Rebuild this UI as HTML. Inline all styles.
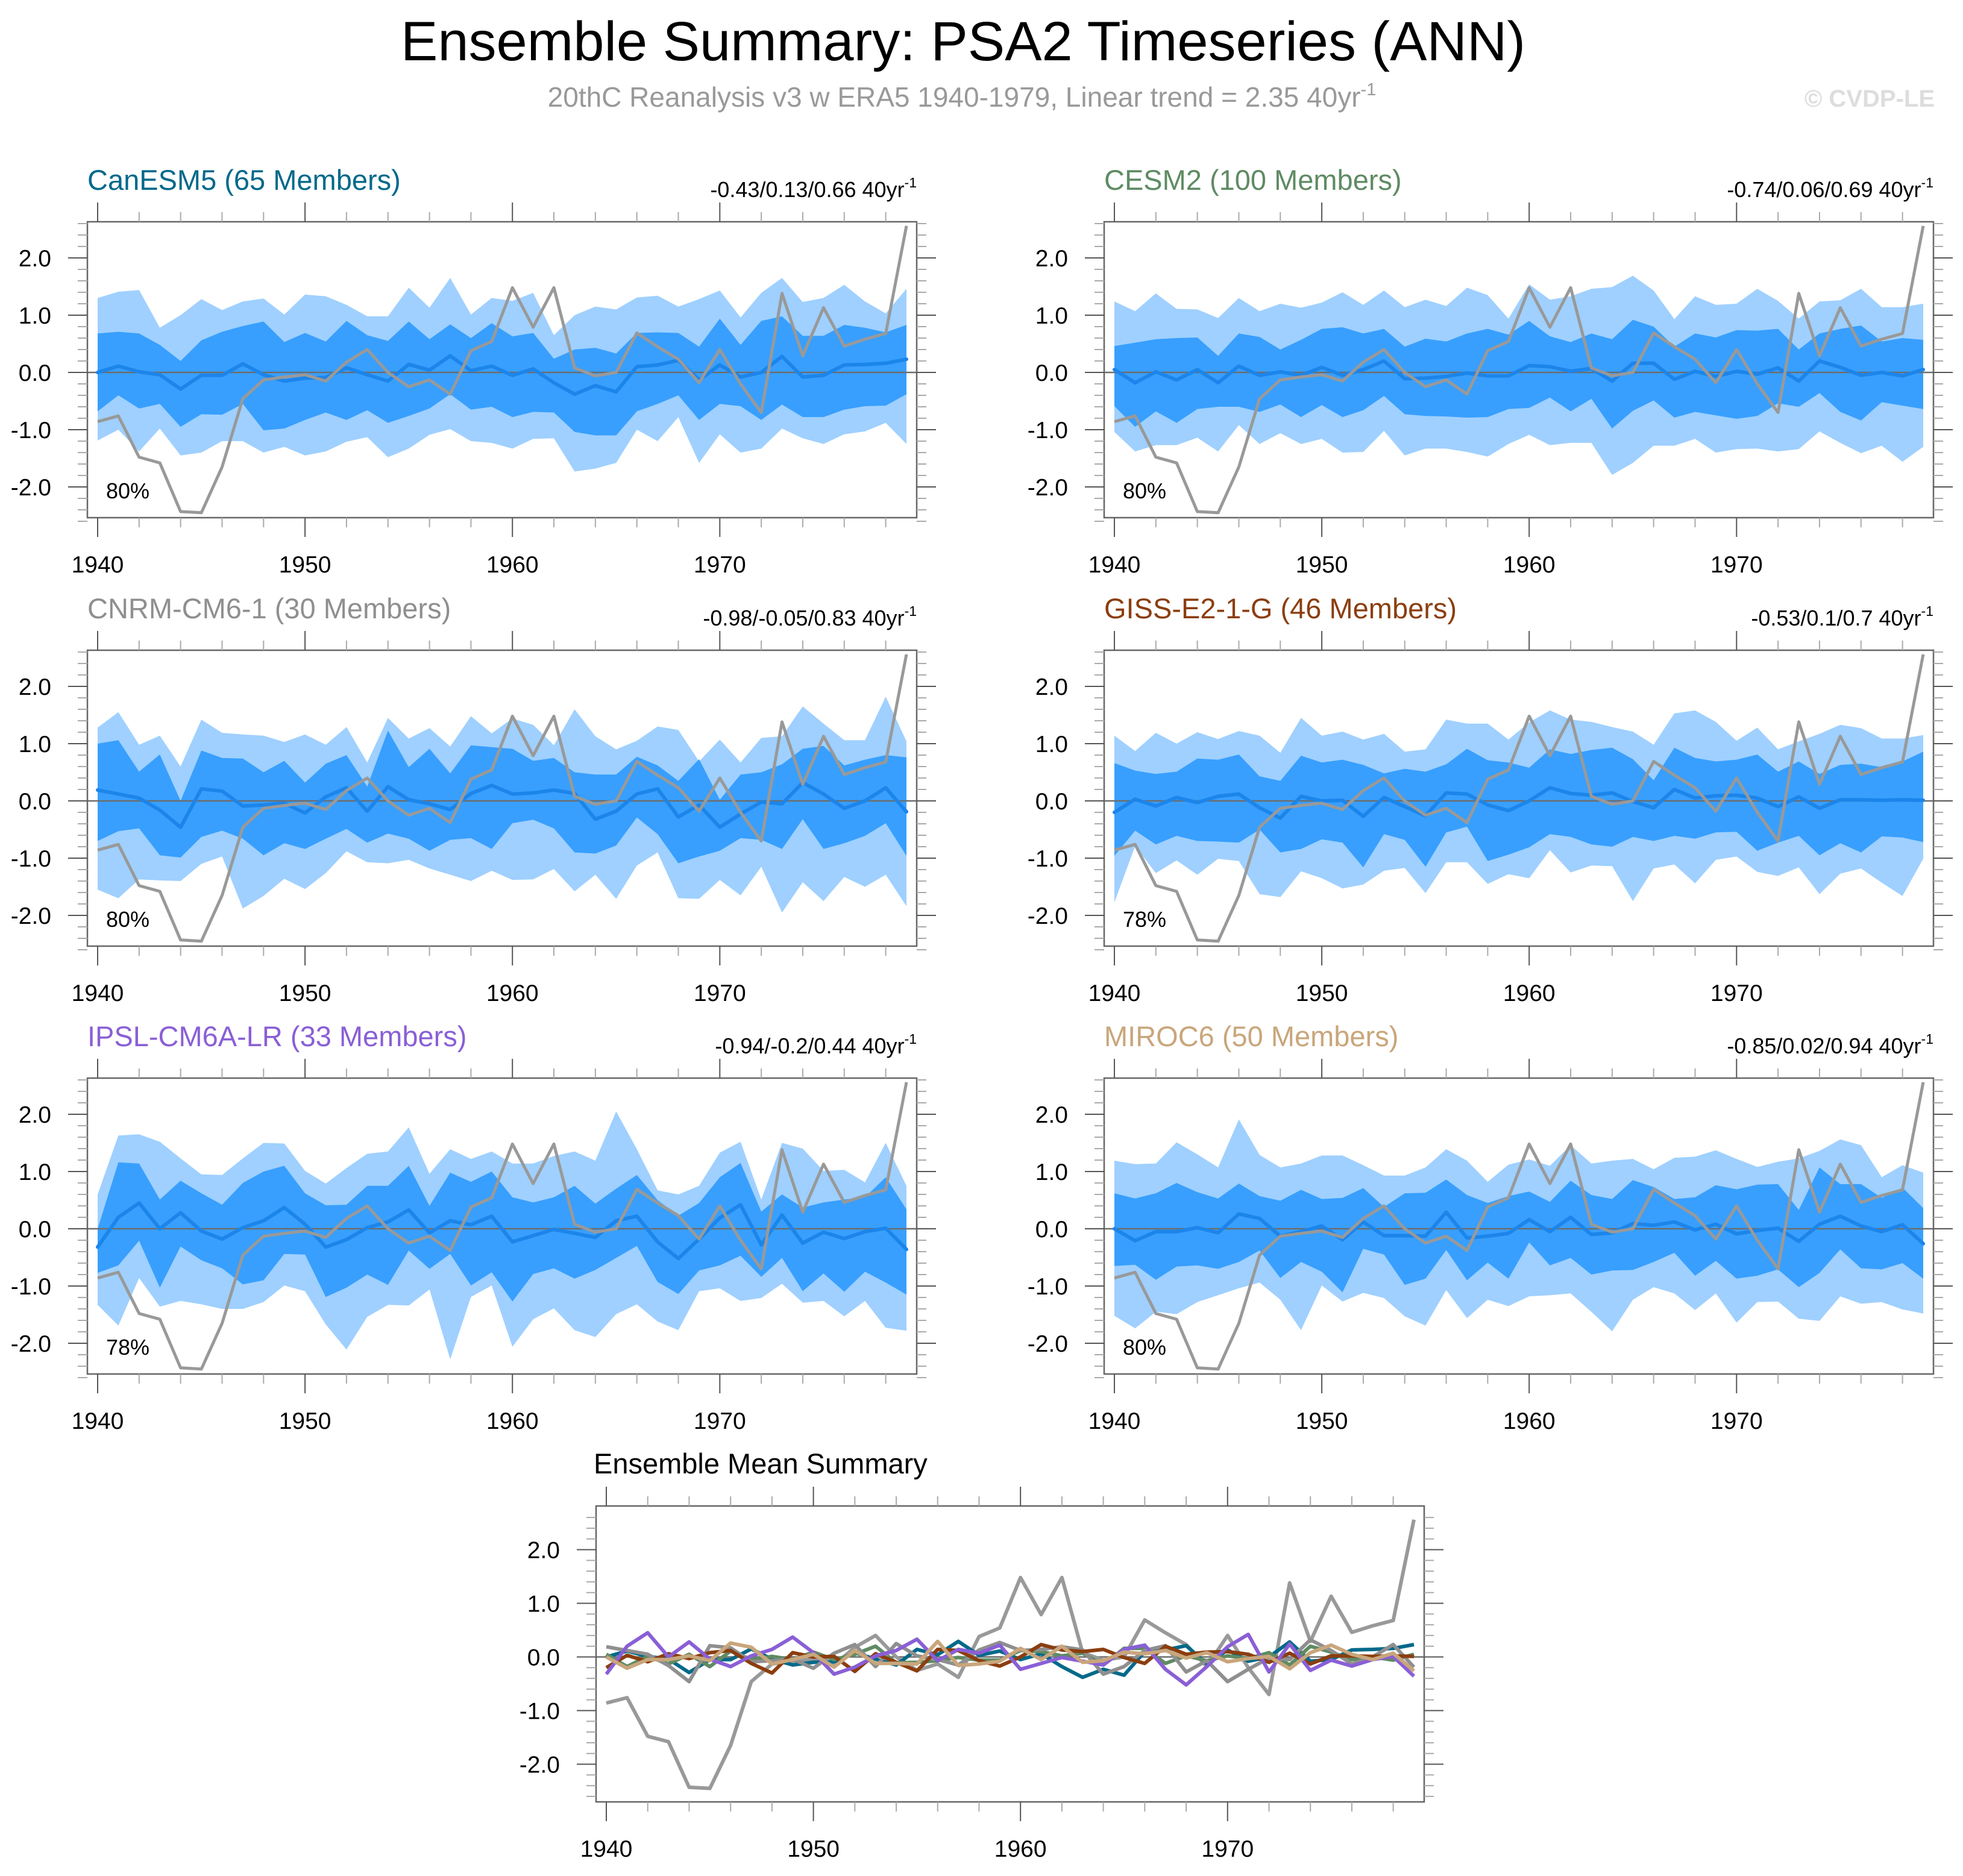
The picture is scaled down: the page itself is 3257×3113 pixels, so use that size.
<!DOCTYPE html>
<html><head><meta charset="utf-8"><title>Ensemble Summary: PSA2 Timeseries (ANN)</title>
<style>html,body{margin:0;padding:0;background:#fff}svg{display:block}text{font-family:"Liberation Sans",Arial,sans-serif}</style>
</head><body>
<svg id="chart" xmlns="http://www.w3.org/2000/svg" width="3257" height="3113" viewBox="0 0 3257 3113">
<text x="1598" y="100" font-size="92" text-anchor="middle" fill="#000">Ensemble Summary: PSA2 Timeseries (ANN)</text>
<text x="1596" y="177" font-size="46" text-anchor="middle" fill="#999">20thC Reanalysis v3 w ERA5 1940-1979, Linear trend = 2.35 40yr<tspan font-size="29" dy="-19">-1</tspan></text>
<text x="3210" y="177" font-size="40" font-weight="bold" text-anchor="end" fill="#ddd">© CVDP-LE</text>
<g id="panels"></g>
</svg>
<script>
const years = [1940,1941,1942,1943,1944,1945,1946,1947,1948,1949,1950,1951,1952,1953,1954,1955,1956,1957,1958,1959,1960,1961,1962,1963,1964,1965,1966,1967,1968,1969,1970,1971,1972,1973,1974,1975,1976,1977,1978,1979];
const yTicks = [-2,-1,0,1,2];
const yTickLabels = ["-2.0","-1.0","0.0","1.0","2.0"];
const xTicks = [1940,1950,1960,1970];
const xTickLabels = ["1940","1950","1960","1970"];
const obsValues = [-0.86,-0.76,-1.48,-1.58,-2.43,-2.45,-1.65,-0.46,-0.13,-0.08,-0.04,-0.15,0.18,0.40,0.0,-0.25,-0.13,-0.38,0.38,0.54,1.48,0.79,1.48,0.08,-0.06,0.0,0.69,0.45,0.23,-0.18,0.40,-0.2,-0.70,1.38,0.29,1.13,0.46,0.58,0.68,2.56];

const canesm5Mean = [0.0,0.11,0.01,-0.04,-0.29,-0.05,-0.05,0.15,-0.04,-0.15,-0.10,-0.09,0.08,-0.04,-0.15,0.14,0.04,0.29,0.03,0.11,-0.05,0.06,-0.18,-0.38,-0.23,-0.34,0.10,0.13,0.21,-0.13,0.13,-0.08,0.0,0.28,-0.08,-0.05,0.13,0.14,0.16,0.23];
const canesm5DarkHi = [0.68,0.71,0.68,0.48,0.20,0.56,0.71,0.81,0.89,0.53,0.69,0.54,0.90,0.65,0.55,0.89,0.58,0.84,0.60,0.86,0.63,0.69,0.24,0.40,0.43,0.33,0.69,0.70,0.69,0.45,0.94,0.48,0.90,0.98,0.64,0.64,0.83,0.78,0.70,0.83];
const canesm5DarkLo = [-0.68,-0.40,-0.63,-0.55,-0.95,-0.73,-0.74,-0.55,-1.01,-0.98,-0.83,-0.70,-0.83,-0.66,-0.88,-0.76,-0.63,-0.38,-0.65,-0.60,-0.78,-0.69,-0.70,-1.04,-1.10,-1.10,-0.68,-0.55,-0.40,-0.83,-0.55,-0.59,-0.83,-0.56,-0.78,-0.78,-0.65,-0.59,-0.58,-0.38];
const canesm5LightHi = [1.30,1.41,1.44,0.78,1.00,1.28,1.09,1.24,1.29,1.01,1.36,1.33,1.18,0.98,0.98,1.48,1.13,1.65,1.01,1.30,1.25,1.39,0.65,1.00,1.15,1.10,1.31,1.34,1.15,1.28,1.43,0.96,1.39,1.65,1.23,1.30,1.53,1.24,1.03,1.46];
const canesm5LightLo = [-1.19,-1.00,-1.38,-0.98,-1.45,-1.40,-1.20,-1.20,-1.40,-1.30,-1.45,-1.38,-1.21,-1.13,-1.48,-1.33,-1.09,-0.99,-1.20,-1.23,-1.33,-1.16,-1.15,-1.73,-1.68,-1.58,-1.00,-1.20,-0.78,-1.58,-1.08,-1.40,-1.33,-0.98,-1.15,-1.25,-1.08,-1.03,-0.88,-1.25];

const cesm2Mean = [0.05,-0.18,0.01,-0.13,0.05,-0.18,0.11,-0.05,0.01,-0.05,0.09,-0.05,0.05,0.20,-0.11,-0.10,-0.07,-0.01,-0.06,-0.06,0.12,0.10,0.02,0.07,-0.15,0.16,0.16,-0.12,0.02,-0.07,0.02,-0.03,0.08,-0.15,0.20,0.09,-0.05,0.00,-0.06,0.05];
const cesm2DarkHi = [0.46,0.52,0.58,0.60,0.61,0.29,0.68,0.62,0.40,0.57,0.76,0.79,0.68,0.76,0.45,0.59,0.54,0.68,0.76,0.66,0.90,0.63,0.53,0.68,0.58,0.92,0.80,0.45,0.68,0.61,0.74,0.73,0.76,0.40,0.68,0.76,0.82,0.54,0.60,0.57];
const cesm2DarkLo = [-0.59,-0.95,-0.68,-0.88,-0.64,-0.60,-0.60,-0.69,-0.56,-0.78,-0.57,-0.78,-0.66,-0.41,-0.73,-0.76,-0.77,-0.79,-0.78,-0.64,-0.62,-0.44,-0.68,-0.46,-0.98,-0.67,-0.49,-0.79,-0.69,-0.75,-0.81,-0.76,-0.54,-0.60,-0.36,-0.69,-0.84,-0.52,-0.58,-0.64];
const cesm2LightHi = [1.24,1.07,1.38,1.11,1.10,0.95,1.30,1.07,1.20,1.13,1.22,1.40,1.18,1.43,1.14,1.27,1.16,1.48,1.35,0.94,1.54,1.27,1.33,1.46,1.49,1.69,1.43,0.93,1.33,1.18,1.20,1.46,1.25,0.94,1.24,1.26,1.46,1.14,1.14,1.20];
const cesm2LightLo = [-1.04,-1.38,-1.27,-1.27,-1.14,-1.38,-0.92,-1.25,-1.06,-1.25,-1.16,-1.40,-1.39,-1.02,-1.45,-1.33,-1.33,-1.39,-1.47,-1.25,-1.09,-1.27,-1.23,-1.23,-1.79,-1.58,-1.28,-1.28,-1.16,-1.40,-1.34,-1.33,-1.38,-1.34,-1.03,-1.23,-1.41,-1.28,-1.56,-1.30];

const cnrmMean = [0.19,0.12,0.05,-0.16,-0.46,0.21,0.17,-0.09,-0.07,-0.04,-0.21,0.07,0.23,-0.18,0.25,0.02,-0.05,-0.15,0.13,0.27,0.12,0.14,0.19,0.13,-0.32,-0.18,0.12,0.21,-0.28,-0.07,-0.46,-0.23,-0.02,-0.05,0.32,0.12,-0.13,0.0,0.23,-0.19];
const cnrmDarkHi = [1.0,1.06,0.51,0.81,0.0,0.88,0.75,0.74,0.50,0.70,0.32,0.65,0.80,0.25,1.23,0.59,0.91,0.48,0.97,0.94,0.91,0.70,0.75,0.50,0.46,0.46,0.77,0.62,0.35,0.73,0.02,0.46,0.50,0.64,0.91,0.96,0.62,0.72,0.80,0.76];
const cnrmDarkLo = [-0.70,-0.53,-0.48,-0.95,-0.99,-0.63,-0.52,-0.66,-0.95,-0.74,-0.84,-0.66,-0.49,-0.73,-0.57,-0.66,-0.87,-0.68,-0.65,-0.84,-0.39,-0.33,-0.48,-0.90,-0.92,-0.78,-0.29,-0.58,-1.09,-0.97,-0.87,-0.65,-0.68,-0.84,-0.32,-0.84,-0.74,-0.61,-0.39,-0.96];
const cnrmLightHi = [1.28,1.55,0.98,1.14,0.60,1.42,1.19,1.16,1.14,1.03,1.16,0.98,1.29,0.67,1.45,1.09,1.27,0.95,1.48,1.18,1.44,1.33,0.97,1.60,1.13,0.90,1.05,1.30,1.24,0.69,1.07,0.67,1.10,1.13,1.65,1.35,1.06,1.06,1.82,1.04];
const cnrmLightLo = [-1.55,-1.70,-1.37,-1.39,-1.40,-1.10,-0.97,-1.88,-1.66,-1.36,-1.54,-1.26,-0.88,-1.07,-1.09,-1.03,-1.18,-1.29,-1.40,-1.22,-1.38,-1.37,-1.19,-1.58,-1.29,-1.71,-1.13,-0.90,-1.70,-1.71,-1.38,-1.65,-1.15,-1.95,-1.42,-1.75,-1.33,-1.50,-1.29,-1.84];

const gissMean = [-0.20,0.03,-0.09,0.06,-0.03,0.08,0.12,-0.12,-0.30,0.08,0.0,0.01,-0.27,0.06,-0.10,-0.26,0.14,0.12,-0.07,-0.17,0.0,0.23,0.13,0.10,0.14,-0.01,-0.12,0.20,0.05,0.09,0.10,0.05,-0.10,0.07,-0.13,0.02,0.02,0.01,0.02,0.01];
const gissDarkHi = [0.66,0.53,0.47,0.51,0.74,0.72,0.81,0.43,0.35,0.79,0.67,0.72,0.63,0.48,0.56,0.51,0.64,0.91,0.71,0.67,0.58,0.90,0.82,0.89,0.93,0.73,0.36,0.93,0.75,0.69,0.72,0.81,0.51,0.69,0.47,0.63,0.65,0.59,0.69,0.86];
const gissDarkLo = [-0.96,-0.52,-0.76,-0.61,-0.70,-0.71,-0.73,-0.50,-0.90,-0.84,-0.67,-0.73,-1.16,-0.58,-0.68,-1.15,-0.55,-0.45,-1.05,-0.94,-0.81,-0.58,-0.63,-0.76,-0.80,-0.63,-0.70,-0.61,-0.66,-0.55,-0.54,-0.87,-0.73,-0.61,-0.95,-0.74,-0.90,-0.62,-0.64,-0.72];
const gissLightHi = [1.14,0.87,1.19,1.00,1.20,1.08,1.22,1.14,0.84,1.45,1.14,1.21,1.07,1.17,0.86,0.90,1.42,1.35,1.35,1.07,1.37,1.58,1.42,1.38,1.29,1.21,0.98,1.53,1.58,1.38,1.05,1.28,0.90,1.04,1.17,1.33,1.27,1.09,1.09,1.15];
const gissLightLo = [-1.77,-0.79,-1.26,-1.04,-1.29,-1.01,-1.05,-1.63,-1.68,-1.23,-1.35,-1.53,-1.46,-1.22,-1.17,-1.61,-1.07,-1.07,-1.45,-1.28,-1.35,-0.86,-1.25,-1.13,-1.14,-1.75,-1.18,-1.11,-1.44,-1.03,-0.97,-1.24,-1.31,-1.16,-1.63,-1.27,-1.18,-1.43,-1.66,-1.01];

const ipslMean = [-0.32,0.20,0.45,0.0,0.28,-0.04,-0.18,0.02,0.14,0.37,0.08,-0.32,-0.19,0.02,0.12,0.33,-0.07,0.14,0.07,0.22,-0.23,-0.12,-0.01,-0.08,-0.15,0.14,0.22,-0.23,-0.52,-0.18,0.19,0.42,-0.28,0.24,-0.25,-0.06,-0.17,-0.05,0.01,-0.36];
const ipslDarkHi = [0.0,1.16,1.14,0.51,0.84,0.62,0.42,0.80,1.00,1.10,0.62,0.41,0.42,0.75,0.75,1.10,0.40,0.98,0.82,1.00,0.55,0.46,0.55,0.75,0.44,0.70,0.94,0.50,0.23,0.45,0.90,1.15,0.30,0.60,0.37,0.46,0.51,0.55,0.90,0.34];
const ipslDarkLo = [-0.77,-0.64,-0.21,-1.03,-0.31,-0.55,-0.69,-0.97,-0.90,-0.44,-0.45,-1.19,-1.03,-0.80,-0.98,-0.38,-0.70,-0.44,-0.99,-0.76,-1.27,-0.79,-0.69,-0.87,-0.72,-0.51,-0.30,-0.93,-1.14,-0.73,-0.64,-0.47,-0.84,-0.51,-1.09,-0.78,-1.10,-0.75,-0.94,-1.15];
const ipslLightHi = [0.60,1.63,1.65,1.52,1.23,0.95,0.94,1.23,1.50,1.49,1.01,0.79,1.06,1.31,1.35,1.77,0.96,1.39,1.22,1.35,1.14,1.14,1.27,1.35,1.19,2.05,1.39,0.67,0.60,0.75,1.33,1.52,0.51,1.50,1.40,1.01,1.03,0.81,1.50,0.75];
const ipslLightLo = [-1.33,-1.69,-0.86,-1.36,-1.26,-1.32,-1.40,-1.40,-1.28,-0.99,-1.09,-1.67,-2.11,-1.54,-1.33,-1.34,-1.06,-2.28,-1.19,-0.99,-2.06,-1.58,-1.39,-1.77,-1.89,-1.49,-1.32,-1.62,-1.77,-1.09,-1.04,-1.26,-1.21,-0.96,-1.29,-1.26,-1.53,-1.26,-1.73,-1.78];

const mirocMean = [0.0,-0.21,-0.05,-0.05,0.02,-0.07,0.26,0.18,-0.13,-0.05,0.05,-0.19,0.12,-0.12,-0.12,-0.13,0.29,-0.16,-0.13,-0.08,0.16,-0.05,0.20,-0.10,-0.07,0.09,0.06,0.12,-0.02,0.08,-0.09,-0.03,0.01,-0.22,0.08,0.22,0.05,-0.05,0.07,-0.26];
const mirocDarkHi = [0.62,0.53,0.62,0.80,0.64,0.53,0.79,0.57,0.49,0.68,0.52,0.54,0.71,0.38,0.62,0.63,0.86,0.59,0.45,0.57,0.65,0.47,0.84,0.59,0.52,0.85,0.73,0.52,0.55,0.76,0.69,0.77,0.78,0.33,1.07,0.78,0.78,0.54,0.72,0.36];
const mirocDarkLo = [-0.65,-0.63,-0.89,-0.66,-0.64,-0.70,-0.58,-0.38,-0.86,-0.58,-0.75,-1.11,-0.35,-0.45,-0.98,-0.87,-0.37,-0.90,-0.59,-0.87,-0.24,-0.64,-0.51,-0.80,-0.73,-0.72,-0.58,-0.42,-0.82,-0.56,-0.87,-0.82,-0.71,-1.02,-0.77,-0.36,-0.69,-0.71,-0.60,-0.87];
const mirocLightHi = [1.19,1.13,1.14,1.51,1.30,1.07,1.91,1.29,1.07,1.14,1.28,1.28,1.11,0.93,0.93,1.07,1.39,1.19,0.82,1.12,1.21,1.10,1.46,1.14,1.19,1.22,1.04,1.24,1.26,1.37,1.22,1.08,1.17,1.23,1.36,1.56,1.46,0.90,1.11,0.98];
const mirocLightLo = [-1.52,-1.74,-1.45,-1.49,-1.28,-1.16,-1.04,-0.94,-1.24,-1.77,-0.99,-1.27,-1.12,-1.21,-1.53,-1.69,-1.07,-1.56,-1.24,-1.35,-1.18,-1.16,-1.13,-1.45,-1.79,-1.24,-1.02,-1.13,-1.42,-1.13,-1.64,-1.28,-1.27,-1.57,-1.61,-1.18,-1.31,-1.28,-1.41,-1.48];

const modelNames = ["CanESM5 (65 Members)","CESM2 (100 Members)","CNRM-CM6-1 (30 Members)","GISS-E2-1-G (46 Members)","IPSL-CM6A-LR (33 Members)","MIROC6 (50 Members)"];
const modelColors = ["#00698a","#5f8b63","#8f8f8f","#8b3e0f","#8a5fd6","#c9a67c"];
const trendLabels = ["-0.43/0.13/0.66 40yr","-0.74/0.06/0.69 40yr","-0.98/-0.05/0.83 40yr","-0.53/0.1/0.7 40yr","-0.94/-0.2/0.44 40yr","-0.85/0.02/0.94 40yr"];
const pctLabels = ["80%","80%","80%","78%","78%","80%"];
const means = [canesm5Mean,cesm2Mean,cnrmMean,gissMean,ipslMean,mirocMean];
const darkHi = [canesm5DarkHi,cesm2DarkHi,cnrmDarkHi,gissDarkHi,ipslDarkHi,mirocDarkHi];
const darkLo = [canesm5DarkLo,cesm2DarkLo,cnrmDarkLo,gissDarkLo,ipslDarkLo,mirocDarkLo];
const lightHi = [canesm5LightHi,cesm2LightHi,cnrmLightHi,gissLightHi,ipslLightHi,mirocLightHi];
const lightLo = [canesm5LightLo,cesm2LightLo,cnrmLightLo,gissLightLo,ipslLightLo,mirocLightLo];

const NS = "http://www.w3.org/2000/svg";
const root = document.getElementById("panels");
function mk(tag, attrs, parent) {
  const e = document.createElementNS(NS, tag);
  for (const k in attrs) e.setAttribute(k, attrs[k]);
  parent.appendChild(e);
  return e;
}
function makeAxes(L, T, W, H, zeroOff, unit) {
  const x0 = L + 17, step = (W - 34) / (years.length - 1);
  const xs = yr => x0 + (yr - years[0]) * step;
  const ys = v => T + zeroOff - v * unit;
  return {xs, ys, step};
}
function drawFrame(g, L, T, W, H, ax, minRange) {
  const ticks = mk("g", {}, g);
  
  
  for (let k = -minRange; k <= minRange; k++) {
    const v = k * 0.2;
    const major = Math.abs(v - Math.round(v)) < 1e-6;
    const y = ax.ys(v);
    const len = major ? 32 : 16;
    const c = major ? "#555" : "#aaa";
    mk("line", {x1: L - len, x2: L, y1: y, y2: y, stroke: c, "stroke-width": 2}, ticks);
    mk("line", {x1: L + W, x2: L + W + len, y1: y, y2: y, stroke: c, "stroke-width": 2}, ticks);
  }
  for (let yr = years[0]; yr <= years[years.length - 1]; yr += 2) {
    const major = (yr % 10) === 0;
    const x = ax.xs(yr);
    const len = major ? 32 : 16;
    const c = major ? "#555" : "#aaa";
    mk("line", {x1: x, x2: x, y1: T - len, y2: T, stroke: c, "stroke-width": 2}, ticks);
    mk("line", {x1: x, x2: x, y1: T + H, y2: T + H + len, stroke: c, "stroke-width": 2}, ticks);
  }
  yTicks.forEach((v, i) => {
    const t = mk("text", {x: L - 60, y: ax.ys(v) + 14, "font-size": 39, "text-anchor": "end", fill: "#000"}, g);
    
    
    t.textContent = yTickLabels[i];
  });
  xTicks.forEach((v, i) => {
    const t = mk("text", {x: ax.xs(v), y: T + H + 91, "font-size": 39, "text-anchor": "middle", fill: "#000"}, g);
    
    
    t.textContent = xTickLabels[i];
  });
}
function linePath(ax, vals) {
  return vals.map((v, i) => (i ? "L" : "M") + ax.xs(years[i]).toFixed(1) + "," + ax.ys(v).toFixed(1)).join("");
}
function bandPath(ax, hi, lo) {
  let d = hi.map((v, i) => (i ? "L" : "M") + ax.xs(years[i]).toFixed(1) + "," + ax.ys(v).toFixed(1)).join("");
  for (let i = lo.length - 1; i >= 0; i--) d += "L" + ax.xs(years[i]).toFixed(1) + "," + ax.ys(lo[i]).toFixed(1);
  return d + "Z";
}
const colLeft = [145, 1832];
const rowTop = [368, 1079, 1789];
const PW = 1376, PH = 491;
for (let m = 0; m < 6; m++) {
  const L = colLeft[m % 2], T = rowTop[Math.floor(m / 2)];
  const ax = makeAxes(L, T, PW, PH, 250, 95);
  const g = mk("g", {}, root);
  
  
  const title = mk("text", {x: L, y: T - 53, "font-size": 47, fill: modelColors[m]}, g);
  
  
  title.textContent = modelNames[m];
  const tr = mk("text", {x: L + PW, y: T - 41, "font-size": 36, "text-anchor": "end", fill: "#000"}, g);
  
  
  tr.textContent = trendLabels[m];
  const sup = mk("tspan", {"font-size": 23, dy: -16}, tr);
  sup.textContent = "-1";
  const lb = mk("path", {d: bandPath(ax, lightHi[m], lightLo[m]), fill: "#9fd0ff"}, g);
  
  
  const db = mk("path", {d: bandPath(ax, darkHi[m], darkLo[m]), fill: "#389ffe"}, g);
  
  
  const zl = mk("line", {x1: L, x2: L + PW, y1: ax.ys(0), y2: ax.ys(0), stroke: "#6d6d6d", "stroke-width": 2.5}, g);
  
  
  const ml = mk("path", {d: linePath(ax, means[m]), fill: "none", stroke: "#1c85ea", "stroke-width": 6, "stroke-linejoin": "round", "stroke-linecap": "round"}, g);
  
  
  const ol = mk("path", {d: linePath(ax, obsValues), fill: "none", stroke: "#999", "stroke-width": 5, "stroke-linejoin": "round"}, g);
  
  
  const pc = mk("text", {x: L + 31, y: T + 459, "font-size": 36, fill: "#000"}, g);
  
  
  pc.textContent = pctLabels[m];
  const box = mk("rect", {x: L, y: T, width: PW, height: PH, fill: "none", stroke: "#666", "stroke-width": 2.5}, g);
  
  
  drawFrame(g, L, T, PW, PH, ax, 13);
}
(function () {
  const L = 989, T = 2499, W = 1374, H = 491;
  const ax = makeAxes(L, T, W, H, 250.5, 89);
  const g = mk("g", {}, root);
  
  
  const title = mk("text", {x: L - 4, y: T - 54, "font-size": 47, fill: "#000"}, g);
  
  
  title.textContent = "Ensemble Mean Summary";
  const zl = mk("line", {x1: L, x2: L + W, y1: ax.ys(0), y2: ax.ys(0), stroke: "#6d6d6d", "stroke-width": 2.5}, g);
  
  
  const ol = mk("path", {d: linePath(ax, obsValues), fill: "none", stroke: "#999", "stroke-width": 6, "stroke-linejoin": "round"}, g);
  
  
  for (let m = 0; m < 6; m++) {
    const p = mk("path", {d: linePath(ax, means[m]), fill: "none", stroke: modelColors[m], "stroke-width": 6, "stroke-linejoin": "round"}, g);
    
    
  }
  const box = mk("rect", {x: L, y: T, width: W, height: H, fill: "none", stroke: "#666", "stroke-width": 2.5}, g);
  
  
  drawFrame(g, L, T, W, H, ax, 13);
})();
</script>
</body></html>
